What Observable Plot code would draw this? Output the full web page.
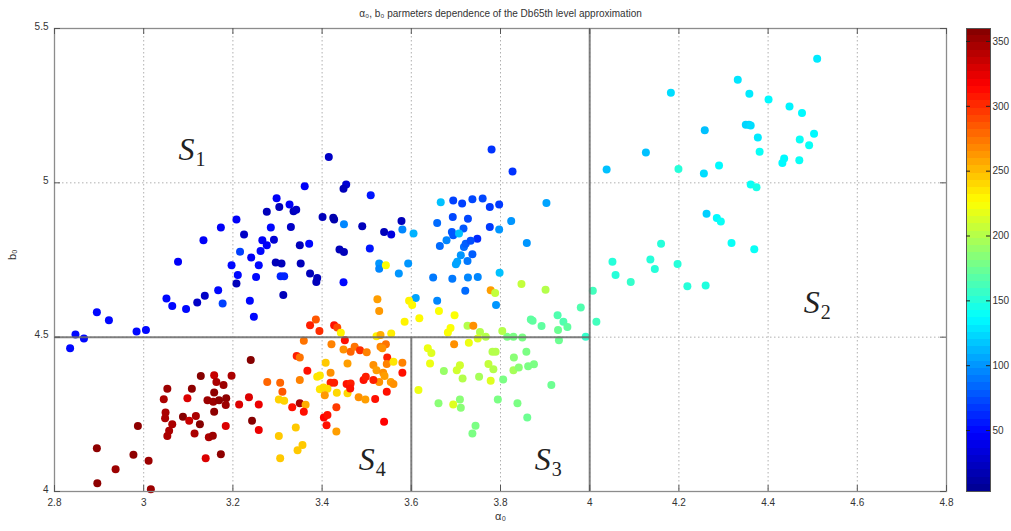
<!DOCTYPE html>
<html><head><meta charset="utf-8">
<script src="https://cdn.jsdelivr.net/npm/d3@7"></script>
<script src="https://cdn.jsdelivr.net/npm/@observablehq/plot@0.6"></script>
<style>
html,body{margin:0;padding:0;background:#fff;}
#wrap{position:relative;width:1011px;height:531px;overflow:hidden;background:#fff;}
#wrap svg{position:absolute;top:0;}
</style></head><body><div id="wrap"></div>
<script>
// [alpha0, b0, value]
const groupS1 = [
[3.415,5.084,25],[3.361,4.989,45],[3.454,4.995,30],[3.448,4.981,20],[3.298,4.950,45],[3.304,4.922,20],[3.327,4.930,45],[3.336,4.908,20],[3.342,4.913,25],[3.276,4.906,20],
[3.208,4.881,45],[3.173,4.855,45],[3.285,4.855,50],[3.330,4.857,25],[3.401,4.889,20],[3.425,4.887,15],[3.427,4.881,15],[3.449,4.866,95],[3.134,4.814,45],[3.225,4.833,25],
[3.266,4.814,45],[3.262,4.779,50],[3.276,4.798,45],[3.292,4.816,30],[3.350,4.798,20],[3.371,4.803,50],[3.216,4.777,70],[3.241,4.758,45],[3.077,4.744,45],[3.197,4.733,50],
[3.258,4.733,50],[3.296,4.742,20],[3.309,4.739,20],[3.352,4.739,20],[3.439,4.784,20],[3.449,4.776,20],[3.211,4.701,50],[3.208,4.674,20],[3.252,4.695,50],[3.307,4.697,60],
[3.315,4.697,60],[3.373,4.706,20],[3.389,4.692,20],[3.387,4.679,20],[3.448,4.678,50],[3.313,4.637,20],[3.051,4.625,50],[3.064,4.601,50],[3.095,4.591,50],[3.120,4.612,25],
[3.137,4.634,25],[3.167,4.652,50],[3.177,4.609,70],[3.238,4.618,50],[3.247,4.566,50],[2.895,4.581,50],[2.922,4.555,50],[2.847,4.509,50],[2.866,4.496,50],[2.835,4.464,50],
[2.984,4.518,50],[3.005,4.523,50],[3.509,4.960,55],[3.490,4.859,20],[3.539,4.841,20],[3.555,4.833,35],[3.578,4.876,20],[3.580,4.849,95],[3.605,4.836,110],[3.507,4.787,55],
[3.528,4.739,100],[3.528,4.722,95],[3.543,4.733,225],[3.572,4.706,100],[3.593,4.739,100],[3.610,4.627,105],[3.658,4.618,95]
];
const groupMid = [
[3.780,5.108,65],[3.827,5.037,65],[3.666,4.937,115],[3.694,4.943,70],[3.714,4.933,70],[3.737,4.947,72],[3.760,4.949,72],[3.776,4.922,68],[3.797,4.930,68],[3.903,4.935,105],
[3.658,4.870,85],[3.693,4.889,72],[3.727,4.884,72],[3.717,4.852,78],[3.691,4.841,78],[3.694,4.830,78],[3.707,4.836,115],[3.748,4.819,62],[3.776,4.857,68],[3.797,4.849,100],
[3.824,4.876,100],[3.679,4.814,95],[3.664,4.795,85],[3.718,4.792,85],[3.722,4.803,80],[3.733,4.812,75],[3.737,4.769,80],[3.711,4.765,100],[3.703,4.744,105],[3.700,4.736,105],
[3.726,4.747,90],[3.859,4.805,100],[3.649,4.693,90],[3.692,4.689,90],[3.727,4.693,95],[3.749,4.695,95],[3.798,4.709,115],[3.721,4.650,85],[3.790,4.604,100]
];
const groupS2 = [
[4.510,5.402,130],[4.332,5.334,128],[4.358,5.289,130],[4.401,5.270,135],[4.448,5.247,133],[4.476,5.226,135],[4.182,5.292,125],[4.258,5.170,115],[4.350,5.188,122],[4.357,5.188,122],
[4.361,5.186,125],[4.377,5.147,130],[4.381,5.101,140],[4.471,5.140,140],[4.503,5.159,135],[4.492,5.122,140],[4.432,5.064,135],[4.436,5.079,135],[4.470,5.073,140],[4.126,5.098,115],
[4.038,5.043,115],[4.199,5.045,150],[4.256,5.030,125],[4.290,5.056,135],[4.361,4.995,140],[4.374,4.986,145],[4.262,4.900,120],[4.285,4.886,135],[4.294,4.875,140],[4.160,4.803,150],
[4.318,4.805,140],[4.369,4.785,140],[4.051,4.744,150],[4.136,4.752,150],[4.058,4.701,150],[4.146,4.721,150],[4.197,4.737,150],[4.092,4.679,155],[4.219,4.665,150],[4.260,4.667,148]
];
const groupS3 = [
[4.007,4.650,160],[3.980,4.596,165],[4.015,4.550,160],[3.991,4.501,155],[3.778,4.652,260],[3.788,4.643,205],[3.847,4.672,205],[3.901,4.654,200],[3.868,4.557,170],[3.872,4.553,170],
[3.892,4.536,170],[3.928,4.571,165],[3.941,4.550,165],[3.950,4.533,170],[3.929,4.523,175],[3.931,4.490,175],[3.815,4.501,180],[3.829,4.501,180],[3.849,4.499,180],[3.804,4.520,200],
[3.754,4.517,200],[3.749,4.496,215],[3.767,4.501,200],[3.726,4.537,200],[3.739,4.537,265],[3.697,4.571,225],[3.662,4.585,225],[3.618,4.561,228],[3.585,4.550,230],[3.595,4.618,230],
[3.602,4.604,228],[3.524,4.623,260],[3.528,4.585,262],[3.688,4.530,225],[3.682,4.515,225],[3.696,4.477,265],[3.729,4.482,220],[3.637,4.464,220],[3.645,4.449,215],[3.642,4.415,220],
[3.673,4.390,190],[3.702,4.393,210],[3.709,4.409,210],[3.715,4.366,200],[3.752,4.372,195],[3.773,4.413,205],[3.784,4.396,200],[3.778,4.359,215],[3.782,4.453,200],[3.789,4.453,200],
[3.806,4.363,180],[3.830,4.434,185],[3.829,4.393,195],[3.841,4.402,185],[3.858,4.453,180],[3.862,4.406,180],[3.875,4.412,180],[3.914,4.345,175],[3.616,4.329,220],[3.661,4.286,185],
[3.694,4.282,215],[3.709,4.298,185],[3.711,4.271,185],[3.794,4.298,180],[3.838,4.286,180],[3.860,4.240,175],[3.744,4.213,180],[3.737,4.188,180]
];
const groupS4 = [
[3.427,4.539,310],[3.434,4.531,290],[3.442,4.514,230],[3.451,4.490,310],[3.522,4.503,230],[3.531,4.507,255],[3.555,4.512,232],[3.373,4.539,305],[3.386,4.557,285],[3.394,4.520,300],
[3.359,4.488,275],[3.421,4.477,270],[3.448,4.460,265],[3.464,4.453,280],[3.473,4.469,275],[3.485,4.458,300],[3.500,4.451,270],[3.531,4.469,270],[3.543,4.477,275],[3.535,4.464,265],
[3.343,4.439,305],[3.350,4.434,275],[3.408,4.417,245],[3.457,4.415,260],[3.515,4.410,265],[3.522,4.393,260],[3.546,4.434,305],[3.545,4.413,270],[3.560,4.420,235],[3.580,4.417,270],
[3.580,4.385,310],[3.537,4.385,265],[3.540,4.374,260],[3.367,4.391,310],[3.389,4.372,235],[3.395,4.376,235],[3.419,4.385,265],[3.419,4.352,305],[3.427,4.352,305],[3.455,4.348,310],
[3.464,4.350,305],[3.493,4.361,310],[3.498,4.372,305],[3.277,4.355,280],[3.306,4.352,280],[3.311,4.323,285],[3.350,4.361,270],[3.395,4.331,235],[3.412,4.333,238],[3.403,4.337,238],
[3.406,4.312,262],[3.433,4.320,240],[3.457,4.318,240],[3.463,4.334,310],[3.482,4.305,265],[3.497,4.298,260],[3.519,4.300,310],[3.545,4.323,310],[3.528,4.355,265],[3.554,4.355,260],
[3.560,4.348,265],[3.515,4.361,305],[3.303,4.298,242],[3.315,4.294,242],[3.333,4.273,310],[3.350,4.286,345],[3.363,4.281,255],[3.359,4.258,310],[3.404,4.240,315],[3.412,4.248,310],
[3.410,4.215,310],[3.432,4.273,295],[3.432,4.194,260],[3.539,4.226,315],[3.341,4.207,245],[3.303,4.180,245],[3.356,4.151,245],[3.345,4.134,245],[3.306,4.108,245]
];
const groupDarkRed = [
[2.895,4.140,355],[2.896,4.027,355],[2.937,4.072,350],[2.977,4.119,355],[2.987,4.212,355],[3.011,4.100,350],[3.016,4.007,350],[3.053,4.333,350],[3.045,4.299,345],[3.049,4.256,345],
[3.048,4.237,345],[3.064,4.218,345],[3.057,4.197,345],[3.053,4.180,345],[3.108,4.333,355],[3.098,4.302,328],[3.088,4.242,358],[3.102,4.229,335],[3.117,4.245,345],[3.126,4.218,358],
[3.114,4.188,345],[3.128,4.374,358],[3.158,4.377,335],[3.163,4.355,345],[3.179,4.345,350],[3.197,4.375,345],[3.158,4.321,355],[3.143,4.296,350],[3.156,4.291,350],[3.169,4.296,355],
[3.185,4.302,355],[3.184,4.280,350],[3.158,4.258,355],[3.184,4.212,328],[3.146,4.176,345],[3.155,4.181,350],[3.139,4.108,328],[3.173,4.121,355],[3.214,4.282,328],[3.236,4.305,328],
[3.240,4.426,358],[3.258,4.282,322],[3.243,4.229,358],[3.258,4.199,322]
];

const xTicks = [2.8, 3.0, 3.2, 3.4, 3.6, 3.8, 4.0, 4.2, 4.4, 4.6, 4.8];
const yTicks = [4.0, 4.5, 5.0, 5.5];
const gridX = [3.0, 3.2, 3.4, 3.6, 3.8, 4.0, 4.2, 4.4, 4.6];
const gridY = [4.5, 5.0];
const cbTicks = [50, 100, 150, 200, 250, 300, 350];
const cbRange = [3, 360];
const boundaries = [
  {x1: 2.8, y1: 4.5, x2: 4.0, y2: 4.5},
  {x1: 4.0, y1: 4.0, x2: 4.0, y2: 5.5},
  {x1: 3.6, y1: 4.0, x2: 3.6, y2: 4.5}
];
const regions = [
  {s: "S", sub: "1", x: 3.078, y: 5.073},
  {s: "S", sub: "2", x: 4.480, y: 4.578},
  {s: "S", sub: "3", x: 3.877, y: 4.070},
  {s: "S", sub: "4", x: 3.482, y: 4.070}
];
const titleText = "α₀, b₀ parmeters dependence of the Db65th level approximation";
const xLabel = "α₀";
const yLabel = "b₀";

const points = [...groupS1, ...groupMid, ...groupS2, ...groupS3, ...groupS4, ...groupDarkRed]
  .map(([a0, b0, v]) => ({a0, b0, v}));

// jet colormap as piecewise linear color scale
const [lo, hi] = cbRange, span = hi - lo;
const colorScale = {
  type: "linear",
  domain: [lo, lo + span / 8, lo + 3 * span / 8, lo + 5 * span / 8, lo + 7 * span / 8, hi],
  range: ["#00008f", "#0000ff", "#00ffff", "#ffff00", "#ff0000", "#800000"],
  interpolate: "rgb"
};

const W = 960, H = 531, mL = 54, mR = 14, mT = 28, mB = 40;
const pw = W - mL - mR, ph = H - mT - mB;
const tickLen = 6;
const fmt = d3.format("~g");

const main = Plot.plot({
  width: W, height: H, marginLeft: mL, marginRight: mR, marginTop: mT, marginBottom: mB,
  style: {fontFamily: "'Liberation Sans', Arial, sans-serif", fontSize: "10px", color: "#333", background: "transparent"},
  x: {domain: [2.8, 4.8], label: null},
  y: {domain: [4, 5.5], label: null},
  color: colorScale,
  marks: [
    Plot.ruleX(gridX, {x: d => d, stroke: "#b0b0b0", strokeDasharray: "1.5,2.5"}),
    Plot.ruleY(gridY, {y: d => d, stroke: "#b0b0b0", strokeDasharray: "1.5,2.5"}),
    Plot.dot(points, {x: "a0", y: "b0", fill: "v", r: 4}),
    Plot.link(boundaries, {x1: "x1", y1: "y1", x2: "x2", y2: "y2", stroke: "#6a6a6a", strokeWidth: 2, strokeOpacity: 0.85}),
    Plot.frame({stroke: "#8c8c8c", strokeWidth: 1.3}),
    Plot.tickX(xTicks, {x: d => d, insetTop: ph - tickLen, stroke: "#555"}),
    Plot.tickX(xTicks, {x: d => d, insetBottom: ph - tickLen, stroke: "#555"}),
    Plot.tickY(yTicks, {y: d => d, insetRight: pw - tickLen, stroke: "#555"}),
    Plot.tickY(yTicks, {y: d => d, insetLeft: pw - tickLen, stroke: "#555"}),
    Plot.axisX(xTicks, {tickSize: 0, tickPadding: 7, tickFormat: fmt, label: null, fill: "#333"}),
    Plot.axisY(yTicks, {tickSize: 0, tickPadding: 6, tickFormat: fmt, label: null, fill: "#333", dy: -2}),
    Plot.text(regions, {x: "x", y: "y", text: "s", textAnchor: "start", lineAnchor: "bottom",
      fontFamily: "'Liberation Serif', 'Times New Roman', serif", fontStyle: "italic", fontSize: 32, fill: "#222"}),
    Plot.text(regions, {x: "x", y: "y", text: "sub", textAnchor: "start", lineAnchor: "bottom", dx: 17, dy: 6,
      fontFamily: "'Liberation Serif', 'Times New Roman', serif", fontSize: 20, fill: "#222"}),
    Plot.text([titleText], {text: d => d, frameAnchor: "top", dy: -19, fontSize: 10, fill: "#333"}),
    Plot.text([xLabel], {text: d => d, frameAnchor: "bottom", dy: 28, fontSize: 11, fill: "#333"}),
    Plot.text([yLabel], {text: d => d, frameAnchor: "left", dx: -42, rotate: -90, fontSize: 11, fill: "#333"})
  ]
});
main.style.left = "0px";

const nb = 64;
const bands = d3.range(nb).map(i => ({y1: lo + i * span / nb, y2: lo + (i + 1) * span / nb, v: lo + (i + 0.5) * span / nb}));
const cbW = 51, cbL = 6, cbR = 21;
const barW = cbW - cbL - cbR;
const bar = Plot.plot({
  width: cbW, height: H, marginLeft: cbL, marginRight: cbR, marginTop: mT, marginBottom: mB,
  style: {fontFamily: "'Liberation Sans', Arial, sans-serif", fontSize: "10px", color: "#333", background: "transparent", overflow: "visible"},
  x: {domain: [0, 1], axis: null},
  y: {domain: cbRange, label: null},
  color: colorScale,
  marks: [
    Plot.rect(bands, {x1: 0, x2: 1, y1: "y1", y2: "y2", fill: "v", shapeRendering: "crispEdges"}),
    Plot.frame({stroke: "#555"}),
    Plot.tickY(cbTicks, {y: d => d, insetRight: barW - 4, stroke: "#222"}),
    Plot.tickY(cbTicks, {y: d => d, insetLeft: barW - 4, stroke: "#222"}),
    Plot.axisY(cbTicks, {anchor: "right", tickSize: 0, tickPadding: 2, label: null, fill: "#333"})
  ]
});
bar.style.left = "960px";

const wrap = document.getElementById("wrap");
wrap.appendChild(main);
wrap.appendChild(bar);
</script></body></html>
